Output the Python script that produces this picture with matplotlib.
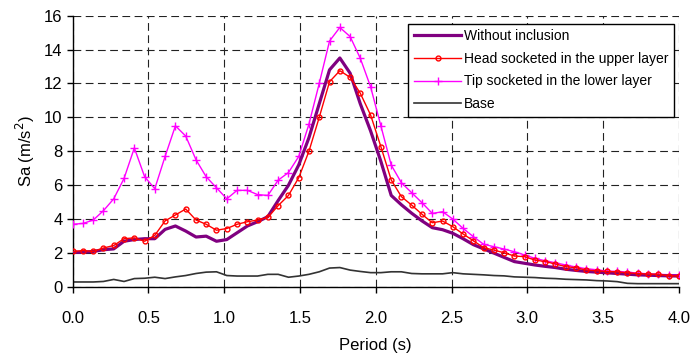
import numpy as np
import matplotlib
matplotlib.use("Agg")
from matplotlib import pyplot as plt

plt.rcParams['font.family'] = ['Liberation Sans', 'DejaVu Sans']

# period grid (s), 60 samples between 0 and 4 s
period = [0.000, 0.068, 0.136, 0.203, 0.271, 0.339, 0.407, 0.475, 0.542, 0.610,
          0.678, 0.746, 0.814, 0.881, 0.949, 1.017, 1.085, 1.153, 1.220, 1.288,
          1.356, 1.424, 1.492, 1.559, 1.627, 1.695, 1.763, 1.831, 1.898, 1.966,
          2.034, 2.102, 2.169, 2.237, 2.305, 2.373, 2.441, 2.508, 2.576, 2.644,
          2.712, 2.780, 2.847, 2.915, 2.983, 3.051, 3.119, 3.186, 3.254, 3.322,
          3.390, 3.458, 3.525, 3.593, 3.661, 3.729, 3.797, 3.864, 3.932, 4.000]

without_inclusion = [2.05, 2.05, 2.10, 2.20, 2.25, 2.70, 2.80, 2.85, 2.85, 3.40,
                     3.60, 3.30, 2.95, 3.00, 2.70, 2.80, 3.20, 3.60, 3.85, 4.15,
                     5.10, 6.00, 7.20, 8.80, 10.8, 12.8, 13.5, 12.6, 10.8, 9.20,
                     7.40, 5.40, 4.85, 4.35, 3.90, 3.50, 3.38, 3.17, 2.85, 2.50,
                     2.25, 2.00, 1.75, 1.50, 1.40, 1.30, 1.22, 1.15, 1.05, 0.98,
                     0.92, 0.88, 0.84, 0.80, 0.76, 0.72, 0.70, 0.68, 0.66, 0.65]

head_upper = [2.10, 2.15, 2.10, 2.30, 2.45, 2.85, 2.90, 2.70, 3.05, 3.90,
              4.25, 4.60, 3.95, 3.70, 3.35, 3.45, 3.70, 3.85, 3.95, 4.10,
              4.80, 5.40, 6.45, 8.00, 10.0, 12.1, 12.75, 12.36, 11.42, 10.14,
              8.27, 6.31, 5.33, 4.83, 4.29, 3.79, 3.89, 3.56, 3.13, 2.73,
              2.32, 2.18, 2.02, 1.83, 1.79, 1.59, 1.50, 1.36, 1.20, 1.14,
              1.00, 0.96, 0.92, 0.90, 0.84, 0.80, 0.76, 0.76, 0.66, 0.66]

tip_lower = [3.70, 3.75, 3.95, 4.50, 5.20, 6.40, 8.20, 6.50, 5.80, 7.70,
             9.50, 8.90, 7.50, 6.50, 5.85, 5.20, 5.70, 5.70, 5.45, 5.40,
             6.30, 6.75, 7.70, 9.60, 12.0, 14.5, 15.3, 14.76, 13.48, 11.8,
             9.49, 7.19, 6.15, 5.56, 4.97, 4.34, 4.44, 4.01, 3.46, 2.97,
             2.52, 2.38, 2.24, 2.08, 1.89, 1.69, 1.55, 1.43, 1.30, 1.18,
             1.08, 1.02, 0.94, 0.92, 0.88, 0.82, 0.78, 0.75, 0.73, 0.73]

base = [0.30, 0.30, 0.30, 0.33, 0.45, 0.33, 0.50, 0.52, 0.58, 0.50,
        0.60, 0.68, 0.80, 0.88, 0.90, 0.68, 0.65, 0.65, 0.65, 0.75,
        0.75, 0.58, 0.65, 0.75, 0.90, 1.12, 1.15, 1.00, 0.92, 0.85,
        0.85, 0.90, 0.90, 0.80, 0.78, 0.78, 0.78, 0.85, 0.78, 0.75,
        0.72, 0.68, 0.66, 0.60, 0.58, 0.56, 0.52, 0.50, 0.46, 0.44,
        0.42, 0.38, 0.36, 0.32, 0.22, 0.20, 0.20, 0.20, 0.20, 0.20]

xticks = [0.0, 0.5, 1.0, 1.5, 2.0, 2.5, 3.0, 3.5, 4.0]
yticks = [0, 2, 4, 6, 8, 10, 12, 14, 16]

fig = plt.figure(figsize=(6.92, 3.62), dpi=100)
ax = fig.add_axes([0.105, 0.207, 0.876, 0.75])

ax.plot(period, without_inclusion, color='#800080', lw=2.3, label='Without inclusion', zorder=4)
ax.plot(period, head_upper, color='#ff0000', lw=1.0, marker='o', ms=3.5, mfc='none',
        mew=1.0, label='Head socketed in the upper layer', zorder=5)
ax.plot(period, tip_lower, color='#ff00ff', lw=1.0, marker='+', ms=6, mew=1.0,
        label='Tip socketed in the lower layer', zorder=3)
ax.plot(period, base, color='#333333', lw=1.2, label='Base', zorder=2)

ax.set_xlim(0, 4)
ax.set_ylim(0, 16)
ax.set_xticks(xticks)
ax.set_xticklabels([f'{t:.1f}' for t in xticks])
ax.set_yticks(yticks)

ax.grid(True, color='#222222', linestyle=(0, (7, 4)), linewidth=0.8)
ax.spines['top'].set_visible(False)
ax.spines['right'].set_visible(False)
ax.spines['left'].set_linewidth(1.0)
ax.spines['bottom'].set_linewidth(1.0)
ax.tick_params(axis='both', direction='out', length=4.2, width=1.0, labelsize=12)
ax.tick_params(axis='x', pad=13)
ax.tick_params(axis='y', pad=3)

ax.set_xlabel('Period (s)', fontsize=12, labelpad=9)
ax.set_ylabel('Sa (m/s$^2$)', fontsize=12, labelpad=5)

leg = ax.legend(loc='upper right', bbox_to_anchor=(0.992, 0.970), fontsize=10,
                frameon=True, fancybox=False, framealpha=1, edgecolor='black',
                handlelength=3.4, handletextpad=0.2, labelspacing=0.62,
                borderpad=0.4, numpoints=1, borderaxespad=0)
leg.get_frame().set_linewidth(1.0)

fig.savefig('out.png', dpi=100)
